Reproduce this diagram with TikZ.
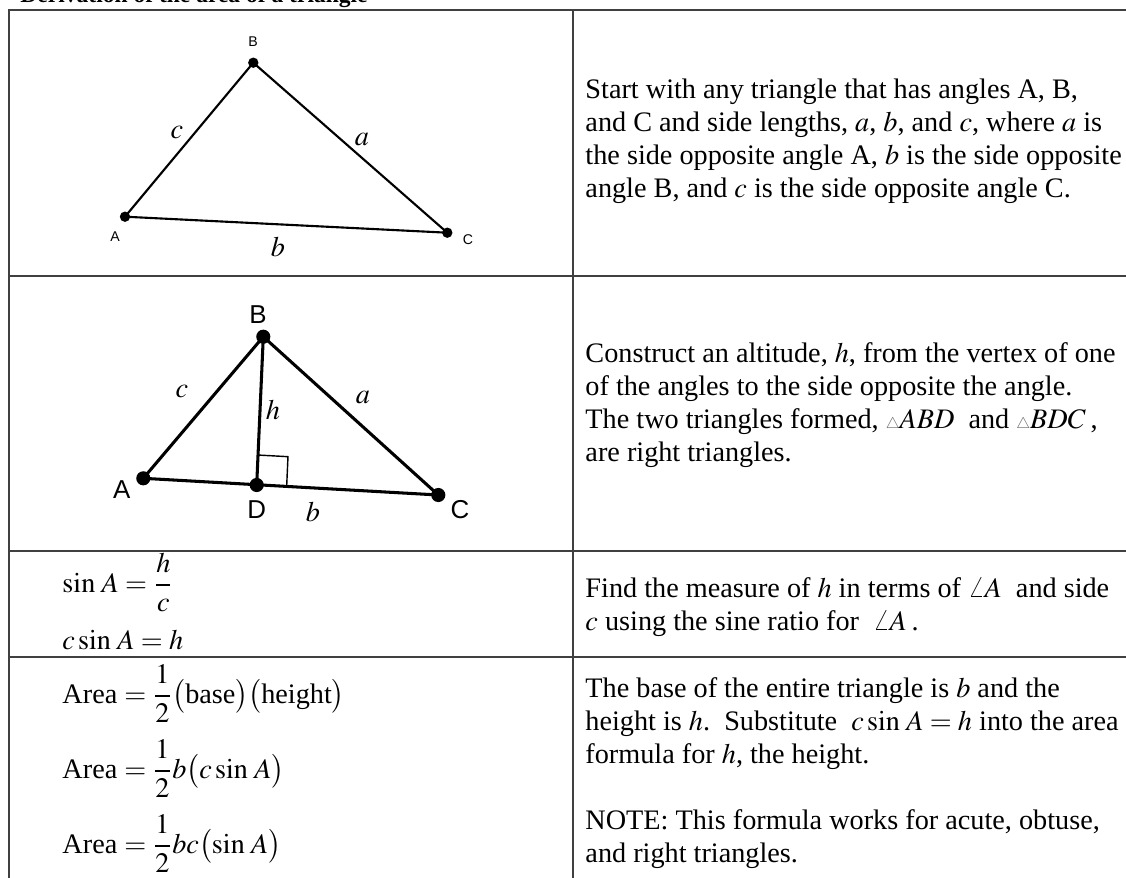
\documentclass[tikz,border=0pt]{standalone}
\usepackage{amsmath}
\usepackage{mathptmx}
\usepackage[no-math]{fontspec}
\setmainfont{Liberation Serif}
\newfontfamily\labelfont{Liberation Sans}
\usetikzlibrary{calc}
\begin{document}
\begin{tikzpicture}[x=0.425pt,y=-0.425pt,
        tabline/.style={line width=0.9pt, draw=black!75},
        tri/.style={line width=0.9pt, line join=round},
        tribold/.style={line width=1.3pt, line join=round},
        vname/.style={inner sep=0pt, font=\labelfont\fontsize{6}{7}\selectfont},
        vnamebig/.style={inner sep=0pt, font=\labelfont\fontsize{11}{13}\selectfont},
        sname/.style={inner sep=0pt, font=\fontsize{12}{14}\selectfont},
        txt/.style={anchor=base west, inner sep=0pt, align=left, font=\fontsize{12}{14}\selectfont},
        frm/.style={anchor=base west, inner sep=0pt, font=\fontsize{12}{14}\selectfont}]
                \useasboundingbox ( 0, 0 ) rectangle ( 1126, 878 );
% заголовок
                \node (title) [anchor=base west, inner sep=0pt, font=\bfseries\fontsize{10}{12}\selectfont] at ( 20, 2 ) {Derivation of the area of a triangle};
% таблица
                \draw [tabline] ( 9, 890 ) -- ( 9, 10 ) -- ( 1140, 10 );
                \draw [tabline] ( 573, 10 ) -- ( 573, 890 );
                \foreach \y in {276, 551, 657}
                    \draw [tabline] ( 9, \y ) -- ( 1140, \y );

% треугольник
                \coordinate (A1) at ( 125, 216.7 );
                \coordinate (B1) at ( 253.3, 62.7 );
                \coordinate (C1) at ( 447.3, 232.7 );
                \draw [tri] (A1) -- (B1) -- (C1) -- cycle;
                \foreach \p in {A1, B1, C1}
                    \fill (\p) circle (2.2pt);
                \node (nA1) [vname] at ( 115, 237 ) {A};
                \node (nB1) [vname] at ( 253, 42 ) {B};
                \node (nC1) [vname] at ( 468, 240 ) {C};
                \node (na1) [sname] at ( 362, 140 ) {$a$};
                \node (nb1) [sname] at ( 278, 247 ) {$b$};
                \node (nc1) [sname] at ( 177, 133 ) {$c$};
% текст (якорь -- последняя строка)
                \node (t1) [txt] at ( 585, 197 ) {Start with any triangle that has angles A, B,\\
                    and C and side lengths, $a$, $b$, and $c$, where $a$ is\\
                    the side opposite angle A, $b$ is the side opposite\\
                    angle B, and $c$ is the side opposite angle C.};

% высота
                \coordinate (A2) at ( 143.3, 478.3 );
                \coordinate (B2) at ( 263.3, 336.7 );
                \coordinate (C2) at ( 438.3, 495 );
                \coordinate (D2) at ( 256.7, 485 );
                \draw [tribold] (A2) -- (B2) -- (C2) -- cycle;
                \draw [tribold] (B2) -- (D2);
                \coordinate (sqB) at ($(D2)!12.75pt!(B2)$);
                \coordinate (sqC) at ($(D2)!12.75pt!(C2)$);
                \draw [line width=0.6pt] (sqB) -- ($(sqB)+(sqC)-(D2)$) -- (sqC);
                \foreach \p in {A2, B2, C2, D2}
                    \fill (\p) circle (3pt);
                \node (nA2) [vnamebig] at ( 121.7, 490 ) {A};
                \node (nB2) [vnamebig] at ( 258, 315 ) {B};
                \node (nC2) [vnamebig] at ( 460, 510 ) {C};
                \node (nD2) [vnamebig] at ( 256.7, 510 ) {D};
                \node (na2) [sname] at ( 363, 398 ) {$a$};
                \node (nb2) [sname] at ( 313, 512 ) {$b$};
                \node (nc2) [sname] at ( 182, 392 ) {$c$};
                \node (nh2) [sname] at ( 273, 410 ) {$h$};
                \node (t2) [txt] at ( 585, 461 ) {Construct an altitude, $h$, from the vertex of one\\
                    of the angles to the side opposite the angle.\\
                    The two triangles formed, {\color{black!60}\scalebox{0.55}{$\triangle$}}$ABD$\ \ and {\color{black!60}\scalebox{0.55}{$\triangle$}}$BDC$\,,\\
                    are right triangles.};

% синус
                \node (f1) [frm] at ( 62, 592 ) {$\sin\,A=\dfrac{h}{c}$};
                \node (f2) [frm] at ( 62, 649 ) {$c\sin\,A=h$};
                \node (t3) [txt] at ( 585, 630 ) {Find the measure of $h$ in terms of $\angle A$\ \ and side\\
                    $c$ using the sine ratio for\ \ $\angle A$\,.};

% площадь
                \node (f3) [frm] at ( 62, 703 ) {Area $=\dfrac{1}{2}\bigl(\text{base}\bigr)\bigl(\text{height}\bigr)$};
                \node (f4) [frm] at ( 62, 778 ) {Area $=\dfrac{1}{2}b\bigl(c\sin\,A\bigr)$};
                \node (f5) [frm] at ( 62, 853 ) {Area $=\dfrac{1}{2}bc\bigl(\sin\,A\bigr)$};
                \node (t4) [txt] at ( 585, 862 ) {The base of the entire triangle is $b$ and the\\
                    height is $h$.\ \ Substitute\ \ $c\sin\,A=h$ into the area\\
                    formula for $h$, the height.\\[14pt]
                    NOTE: This formula works for acute, obtuse,\\
                    and right triangles.};
            \end{tikzpicture}
\end{document}
